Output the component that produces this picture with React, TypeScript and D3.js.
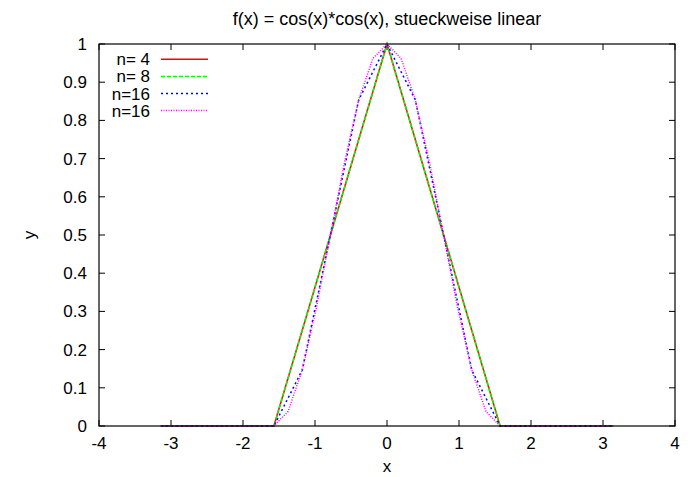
import React from "react";
import * as d3 from "d3";

// ---- data ----
const xTicks = [-4, -3, -2, -1, 0, 1, 2, 3, 4];
const yTicks = [0, 0.1, 0.2, 0.3, 0.4, 0.5, 0.6, 0.7, 0.8, 0.9, 1];
const yTickLabels = ["0", "0.1", "0.2", "0.3", "0.4", "0.5", "0.6", "0.7", "0.8", "0.9", "1"];

const xN4 = [-3.1416, -1.5708, 0, 1.5708, 3.1416];
const yN4 = [0, 0, 1, 0, 0];

const xN8 = [-3.1416, -2.3562, -1.5708, -0.7854, 0, 0.7854, 1.5708, 2.3562, 3.1416];
const yN8 = [0, 0, 0, 0.5, 1, 0.5, 0, 0, 0];

const xN16 = [
  -3.1416, -2.7489, -2.3562, -1.9635, -1.5708, -1.1781, -0.7854, -0.3927, 0,
  0.3927, 0.7854, 1.1781, 1.5708, 1.9635, 2.3562, 2.7489, 3.1416,
];
const yN16 = [0, 0, 0, 0, 0, 0.146, 0.5, 0.854, 1, 0.854, 0.5, 0.146, 0, 0, 0, 0, 0];

const xN32 = [
  -3.1416, -2.9452, -2.7489, -2.5525, -2.3562, -2.1598, -1.9635, -1.7671, -1.5708,
  -1.3744, -1.1781, -0.9817, -0.7854, -0.589, -0.3927, -0.1963, 0,
  0.1963, 0.3927, 0.589, 0.7854, 0.9817, 1.1781, 1.3744, 1.5708,
  1.7671, 1.9635, 2.1598, 2.3562, 2.5525, 2.7489, 2.9452, 3.1416,
];
const yN32 = [
  0, 0, 0, 0, 0, 0, 0, 0, 0,
  0.038, 0.146, 0.309, 0.5, 0.691, 0.854, 0.962, 1,
  0.962, 0.854, 0.691, 0.5, 0.309, 0.146, 0.038, 0,
  0, 0, 0, 0, 0, 0, 0, 0,
];

const seriesLabels = ["n= 4", "n= 8", "n=16", "n=16"];
const seriesColors = ["#ff0000", "#00ff00", "#0000ff", "#ff00ff"];
const seriesDash = ["none", "4,2", "2,3", "1,1.5"];
const seriesX = [xN4, xN8, xN16, xN32];
const seriesY = [yN4, yN8, yN16, yN32];

const W = 693;
const H = 477;
const left = 99;
const right = 675;
const top = 44;
const bottom = 426;
const font = "'Liberation Sans', Arial, Helvetica, sans-serif";
const fs = 17;

export default function App() {
  const x = d3.scaleLinear().domain([-4, 4]).range([left, right]);
  const y = d3.scaleLinear().domain([0, 1]).range([bottom, top]);
  const line = d3
    .line<[number, number]>()
    .x((d) => x(d[0]))
    .y((d) => y(d[1]));
  const tl = 6;

  return (
    <svg
      width={W}
      height={H}
      style={{ position: "absolute", left: 0, top: 0, background: "#fff" }}
      fontFamily={font}
    >
      <rect x={0} y={0} width={W} height={H} fill="#fff" />
      {/* title */}
      <text x={(left + right) / 2} y={25} fontSize={18} textAnchor="middle">
        f(x) = cos(x)*cos(x), stueckweise linear
      </text>

      {/* ticks */}
      {xTicks.map((t) => (
        <g key={"xt" + t}>
          <line x1={x(t)} x2={x(t)} y1={bottom} y2={bottom - tl} stroke="#000" />
          <line x1={x(t)} x2={x(t)} y1={top} y2={top + tl} stroke="#000" />
          <text x={x(t)} y={bottom + 23} fontSize={fs} textAnchor="middle">
            {t}
          </text>
        </g>
      ))}
      {yTicks.map((t, i) => (
        <g key={"yt" + t}>
          <line x1={left} x2={left + tl} y1={y(t)} y2={y(t)} stroke="#000" />
          <line x1={right} x2={right - tl} y1={y(t)} y2={y(t)} stroke="#000" />
          <text x={87} y={y(t) + 6} fontSize={fs} textAnchor="end">
            {yTickLabels[i]}
          </text>
        </g>
      ))}

      {/* axis labels */}
      <text x={(left + right) / 2} y={472} fontSize={fs} textAnchor="middle">
        x
      </text>
      <text
        x={0}
        y={0}
        fontSize={fs}
        textAnchor="middle"
        transform={`translate(35, ${(top + bottom) / 2}) rotate(-90)`}
      >
        y
      </text>

      {/* series */}
      {seriesX.map((xs, i) => (
        <path
          key={"s" + i}
          d={line(xs.map((v, j) => [v, seriesY[i][j]]) as [number, number][]) || ""}
          fill="none"
          stroke={seriesColors[i]}
          strokeWidth={1.5}
          strokeDasharray={seriesDash[i]}
        />
      ))}

      {/* legend */}
      {seriesLabels.map((lab, i) => {
        const ly = 59.3 + 17.1 * i;
        return (
          <g key={"lg" + i}>
            <text x={150} y={ly + 6} fontSize={fs} textAnchor="end" style={{ whiteSpace: "pre" }}>
              {lab}
            </text>
            <line
              x1={161}
              x2={208}
              y1={ly}
              y2={ly}
              stroke={seriesColors[i]}
              strokeWidth={1.5}
              strokeDasharray={seriesDash[i]}
            />
          </g>
        );
      })}

      {/* border */}
      <rect
        x={left}
        y={top}
        width={right - left}
        height={bottom - top}
        fill="none"
        stroke="#000"
        strokeWidth={1.2}
      />
    </svg>
  );
}
